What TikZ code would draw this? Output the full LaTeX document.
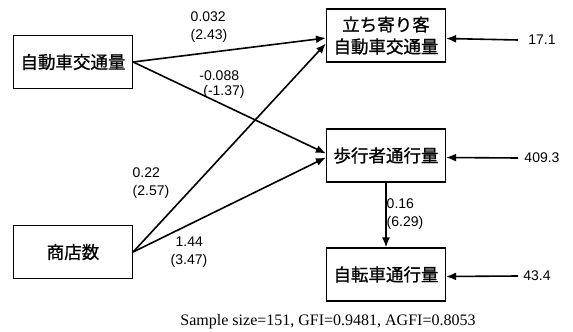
\documentclass[tikz,border=0pt]{standalone}
\usepackage{fontspec}
\setmainfont{Liberation Serif}
\newfontfamily\numfont{Liberation Sans}
\newfontfamily\jpfont[FakeBold=1]{Noto Sans CJK JP}
\usetikzlibrary{arrows.meta}
\begin{document}
\begin{tikzpicture}[
x=1pt,y=-1pt,
box/.style={draw,line width=1.2pt,minimum width=119pt,minimum height=53pt,align=center,inner sep=1pt,font=\jpfont\fontsize{17.5}{22}\selectfont},
path/.style={line width=1.6pt,-{Latex[length=10pt,width=8pt]}},
coef/.style={font=\numfont\fontsize{14}{18}\selectfont,align=left,inner sep=0pt}
]
\useasboundingbox (0,0) rectangle (573,332);
\node[box] (car) at (73,62) {自動車交通量};
\node[box] (shop) at (73,252) {商店数};
\node[box] (visit) at (386,35.5) {立ち寄り客\\自動車交通量};
\node[box] (walk) at (386,155.5) {歩行者通行量};
\node[box] (bike) at (386,274.5) {自転車通行量};
% error terms
\node[coef] (e1) at (542,40) {17.1};
\node[coef] (e2) at (542,158) {409.3};
\node[coef] (e3) at (537,276) {43.4};
\draw[path] (518,40) -- ([yshift=-3pt]visit.east);
\draw[path] (518,158) -- ([yshift=-2pt]walk.east);
\draw[path] (518,276) -- ([yshift=-2pt]bike.east);
% paths
\draw[path] (car.east) -- ([yshift=-2.5pt]visit.west);
\draw[path] (car.east) -- ([yshift=2pt]walk.west);
\draw[path] (shop.east) -- ([yshift=-8pt]visit.west);
\draw[path] (shop.east) -- ([yshift=-2pt]walk.west);
\draw[path] (walk.south) -- (bike.north);
% coefficients
\node[coef] (c1) at (209,27) {0.032\\(2.43)};
\node[coef] (c2) at (222,85) {-0.088\\[-3pt]\hspace*{4pt}(-1.37)};
\node[coef] (c3) at (151,183) {0.22\\(2.57)};
\node[coef] (c4) at (189,252) {\hspace*{5pt}1.44\\(3.47)};
\node[coef] (c5) at (405,214) {0.16\\(6.29)};
\node (cap) at (328,322) {\fontsize{16}{18}\selectfont Sample size=151, GFI=0.9481, AGFI=0.8053};
\end{tikzpicture}
\end{document}
